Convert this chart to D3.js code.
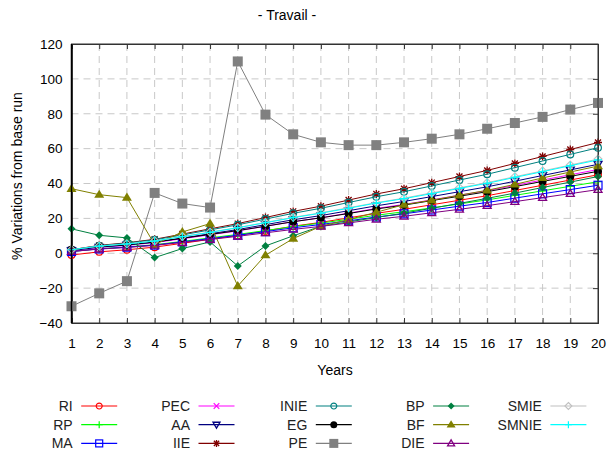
<!DOCTYPE html>
<html><head><meta charset="utf-8">
<script src="https://cdn.jsdelivr.net/npm/d3@7"></script>
<style>body{margin:0;background:#fff}svg{display:block;font-family:"Liberation Sans",Arial,sans-serif}</style>
</head><body><svg id="c" width="613" height="456"></svg>
<script>
const years = [1,2,3,4,5,6,7,8,9,10,11,12,13,14,15,16,17,18,19,20];
const yTicks = [-40,-20,0,20,40,60,80,100,120];
const names = ["RI","RP","MA","PEC","AA","IIE","INIE","EG","PE","BP","BF","DIE","SMIE","SMNIE"];
const RI    = [-1,0.8,2.0,3.5,5.7,8.0,10.2,12.8,15.5,17.7,20.3,22.9,25.2,27.8,30.4,33.0,36.0,39.0,42.0,45];
const RP    = [1,2.6,3.6,4.9,6.8,8.8,10.8,13.0,15.3,17.3,19.5,21.8,23.8,26.0,28.3,30.6,33.2,35.8,38.4,41];
const MA    = [1,2.5,3.5,4.7,6.5,8.4,10.3,12.4,14.6,16.5,18.6,20.8,22.6,24.8,27.0,29.1,31.6,34.1,36.5,39];
const PEC   = [1.5,3.4,4.5,6.1,8.3,10.6,12.8,15.5,18.1,20.4,23.0,25.7,28.0,30.6,33.3,35.9,38.9,42.0,45.0,48];
const AA    = [1.5,3.5,4.7,6.4,8.7,11.2,13.6,16.4,19.2,21.6,24.4,27.2,29.7,32.5,35.3,38.1,41.3,44.6,47.8,51];
const IIE   = [2,4.5,6.0,8.0,11.0,14.0,17.0,20.5,24.0,27.0,30.5,34.0,37.0,40.5,44.0,47.5,51.5,55.5,59.5,63.5];
const INIE  = [2,4.3,5.8,7.7,10.5,13.4,16.3,19.6,22.9,25.8,29.1,32.4,35.3,38.6,42.0,45.3,49.1,52.9,56.7,60.5];
const EG    = [2,3.8,4.9,6.4,8.6,10.8,13.0,15.5,18.1,20.3,22.8,25.4,27.6,30.2,32.7,35.3,38.2,41.2,44.1,47];
const PE    = [-30.4,-23,-16,34.6,28.5,26.2,110,79.5,68.2,63.6,62,62,63.6,65.7,68.2,71.4,74.7,78.2,82.4,86.2];
const BP    = [14,10.3,8.8,-2.5,2.7,6.5,-7.3,4.2,10,15.5,18,20.5,23,25.8,28.6,31.5,34.5,37.7,40.8,44];
const BF    = [37,33.6,31.9,5,12.2,17,-18.8,-1.1,8.4,15.5,19.3,23.5,27.9,30.4,33.3,36.1,39.5,43.2,46.6,50];
const DIE   = [1,2.4,3.3,4.5,6.2,7.9,9.7,11.7,13.7,15.4,17.4,19.5,21.2,23.2,25.2,27.3,29.6,31.9,34.2,36.5];
const SMIE  = [2,4.1,5.4,7.1,9.6,12.1,14.7,17.7,20.6,23.2,26.1,29.0,31.6,34.6,37.5,40.5,43.9,47.2,50.6,54];
const SMNIE = [2,4.1,5.3,7.0,9.5,12.0,14.6,17.5,20.4,23.0,25.8,28.8,31.3,34.2,37.2,40.1,43.5,46.8,50.2,53.5];
const values = [RI,RP,MA,PEC,AA,IIE,INIE,EG,PE,BP,BF,DIE,SMIE,SMNIE];
const colors = ["#ff0000","#00ff00","#0000ff","#ff00ff","#000080","#800000","#008080","#000000","#808080","#008040","#808000","#800080","#c0c0c0","#00ffff"];
const markers = ["circleOpen","plus","squareOpen","cross","triDownOpen","star","circleOpen","circleFilled","squareFilled","diamondFilled","triUpFilled","triUpOpen","diamondOpen","plus"];

const svg = d3.select("#c");
const L=71.5, R=598, T=44, B=323;
const x = d3.scaleLinear().domain([1,20]).range([L,R]);
const y = d3.scaleLinear().domain([-40,120]).range([B,T]);

// grid
const g = svg.append("g");
g.selectAll(".vg").data(years.slice(1,-1)).join("line")
  .attr("x1",d=>x(d)).attr("x2",d=>x(d)).attr("y1",T).attr("y2",B)
  .attr("stroke","#c8c8c8").attr("stroke-dasharray","7,5");
g.selectAll(".hg").data(yTicks.slice(1,-1)).join("line")
  .attr("x1",L).attr("x2",R).attr("y1",d=>y(d)).attr("y2",d=>y(d))
  .attr("stroke","#c8c8c8").attr("stroke-dasharray","7,5");

// axes
const xa = svg.append("g").attr("transform",`translate(0,${B})`)
  .call(d3.axisBottom(x).tickValues(years).tickSize(-5).tickPadding(15).tickFormat(d3.format("d")));
const xt = svg.append("g").attr("transform",`translate(0,${T})`)
  .call(d3.axisTop(x).tickValues(years).tickSize(-5).tickFormat(""));
const ya = svg.append("g").attr("transform",`translate(${L},0)`)
  .call(d3.axisLeft(y).tickValues(yTicks).tickSize(0).tickPadding(9));
const yr = svg.append("g").attr("transform",`translate(${R},0)`)
  .call(d3.axisRight(y).tickValues(yTicks).tickSize(-5).tickFormat(""));
[xa,xt,ya,yr].forEach(a=>{
  a.selectAll("path").attr("stroke","#333");
  a.selectAll("line").attr("stroke","#333");
  a.selectAll("text").attr("font-size","13.5px").attr("fill","#000")
   .attr("font-family","'Liberation Sans',Arial,sans-serif");
});
ya.select("path").attr("stroke","#000").attr("stroke-width",1.5);

// marker drawing
function drawMarker(sel, type, color, s) {
  const h = s/2;
  switch(type){
    case "circleOpen": sel.append("circle").attr("r",h*0.85).attr("fill","none").attr("stroke",color).attr("stroke-width",1.2); break;
    case "circleFilled": sel.append("circle").attr("r",h).attr("fill",color); break;
    case "squareOpen": sel.append("rect").attr("x",-h).attr("y",-h).attr("width",s).attr("height",s).attr("fill","none").attr("stroke",color).attr("stroke-width",1.2); break;
    case "squareFilled": sel.append("rect").attr("x",-h-0.5).attr("y",-h-0.5).attr("width",s+1).attr("height",s+1).attr("fill",color); break;
    case "plus": sel.append("path").attr("d",`M${-h},0H${h}M0,${-h}V${h}`).attr("stroke",color).attr("stroke-width",1.2); break;
    case "cross": sel.append("path").attr("d",`M${-h*0.8},${-h*0.8}L${h*0.8},${h*0.8}M${-h*0.8},${h*0.8}L${h*0.8},${-h*0.8}`).attr("stroke",color).attr("stroke-width",1.2); break;
    case "star": sel.append("path").attr("d",`M${-h},0H${h}M0,${-h}V${h}M${-h*0.75},${-h*0.75}L${h*0.75},${h*0.75}M${-h*0.75},${h*0.75}L${h*0.75},${-h*0.75}`).attr("stroke",color).attr("stroke-width",1.3); break;
    case "triDownOpen": sel.append("path").attr("d",`M${-h},${-h*0.7}H${h}L0,${h}Z`).attr("fill","none").attr("stroke",color).attr("stroke-width",1.3); break;
    case "triUpOpen": sel.append("path").attr("d",`M${-h},${h*0.7}H${h}L0,${-h}Z`).attr("fill","none").attr("stroke",color).attr("stroke-width",1.3); break;
    case "triUpFilled": sel.append("path").attr("d",`M${-h-1},${h*0.8}H${h+1}L0,${-h-1}Z`).attr("fill",color); break;
    case "diamondFilled": sel.append("path").attr("d",`M0,${-h}L${h},0L0,${h}L${-h},0Z`).attr("fill",color); break;
    case "diamondOpen": sel.append("path").attr("d",`M0,${-h}L${h},0L0,${h}L${-h},0Z`).attr("fill","none").attr("stroke",color).attr("stroke-width",1.1); break;
  }
}

const line = d3.line().x((d,i)=>x(years[i])).y(d=>y(d));
const plot = svg.append("g");
names.forEach((n,k)=>{
  const sg = plot.append("g");
  sg.append("path").attr("d",line(values[k])).attr("fill","none").attr("stroke",colors[k]).attr("stroke-width",1);
  values[k].forEach((v,i)=>{
    const m = sg.append("g").attr("transform",`translate(${x(years[i])},${y(v)})`);
    drawMarker(m, markers[k], colors[k], k===8?9:8);
  });
});

// frame
svg.append("rect").attr("x",L).attr("y",T).attr("width",R-L).attr("height",B-T)
  .attr("fill","none").attr("stroke","#333");
svg.append("line").attr("x1",L).attr("x2",L).attr("y1",T).attr("y2",B).attr("stroke","#000").attr("stroke-width",1.5);

// titles
svg.append("text").attr("x",287).attr("y",20).attr("text-anchor","middle").attr("font-size","14px").text("- Travail -");
svg.append("text").attr("x",335).attr("y",375).attr("text-anchor","middle").attr("font-size","14px").text("Years");
svg.append("text").attr("transform","translate(22,176) rotate(-90)").attr("text-anchor","middle").attr("font-size","14px").text("% Variations from base run");

// legend
const lg = svg.append("g");
names.forEach((n,k)=>{
  const col = Math.floor(k/3), row = k%3;
  const lx = 72.7 + col*117.3, ly = 406 + row*18.7;
  lg.append("text").attr("x",lx).attr("y",ly+5).attr("text-anchor","end").attr("font-size","14px").attr("fill","#222").text(n);
  lg.append("line").attr("x1",lx+8.5).attr("x2",lx+44.5).attr("y1",ly).attr("y2",ly).attr("stroke",colors[k]).attr("stroke-width",1.2);
  const m = lg.append("g").attr("transform",`translate(${lx+26.5},${ly})`);
  drawMarker(m, markers[k], colors[k], k===8?8:7);
});
</script></body></html>
